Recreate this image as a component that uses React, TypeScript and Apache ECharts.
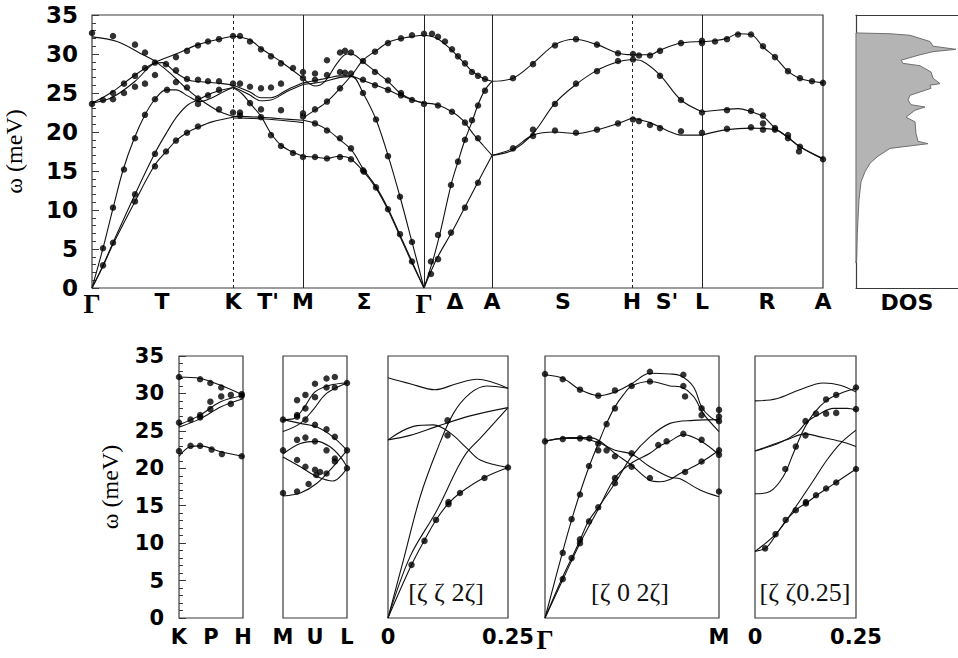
import React, { useEffect, useRef } from 'react';
import * as echarts from 'echarts';

// ---------- top panel: path coordinate (arbitrary units along the path) ----------
const topLabelPos = [0, 0.7, 1.41, 1.76, 2.11, 2.72, 3.32, 3.63, 4.0, 4.71, 5.4, 5.75, 6.1, 6.75, 7.31];
const topLabelNames = ['Γ', 'T', 'K', "T'", 'M', 'Σ', 'Γ', 'Δ', 'A', 'S', 'H', "S'", 'L', 'R', 'A'];
const dashedAt = [1.41, 5.4];
const solidAt = [2.11, 3.32, 4.0, 6.1];

const branchesGK = [
  [[0, 32.2], [0.25, 31.6], [0.48, 30.1], [0.65, 28.9], [0.81, 27.2], [0.96, 25.4], [1.1, 24.0], [1.25, 22.8], [1.41, 22.0]],
  [[0, 23.7], [0.21, 25.2], [0.43, 27.3], [0.63, 28.9], [0.84, 30.0], [1.06, 31.2], [1.27, 31.9], [1.41, 32.3]],
  [[0, 23.7], [0.21, 24.5], [0.43, 26.5], [0.6, 28.6], [0.7, 28.9], [0.84, 27.6], [0.98, 26.6], [1.15, 26.4], [1.3, 26.2], [1.41, 26.0]],
  [[0, 0], [0.11, 5.1], [0.21, 10.2], [0.31, 15.1], [0.42, 19.1], [0.53, 22.2], [0.63, 24.2], [0.74, 25.4], [0.84, 25.4], [0.96, 24.6], [1.08, 23.9], [1.2, 24.4], [1.32, 25.2], [1.41, 25.7]],
  [[0, 0], [0.11, 2.9], [0.21, 5.8], [0.43, 12.0], [0.63, 17.3], [0.75, 20.0], [0.85, 22.0], [0.96, 23.5], [1.06, 24.1], [1.2, 25.0], [1.41, 25.7]],
  [[0, 0], [0.11, 2.8], [0.21, 5.6], [0.43, 11.1], [0.63, 15.8], [0.75, 17.6], [0.84, 18.9], [0.95, 19.9], [1.06, 20.6], [1.2, 21.3], [1.41, 21.9]],
];
const branchesKM = [
  [[1.41, 32.3], [1.58, 31.8], [1.69, 30.7], [1.89, 29.0], [2.11, 26.9]],
  [[1.41, 26.0], [1.57, 25.2], [1.69, 24.4], [1.79, 24.4], [1.95, 25.4], [2.11, 26.3]],
  [[1.41, 25.8], [1.57, 24.8], [1.69, 24.0], [1.79, 24.1], [1.95, 25.2], [2.11, 26.1]],
  [[1.41, 25.7], [1.5, 24.9], [1.58, 23.7], [1.69, 22.0], [1.79, 19.8], [1.89, 18.3], [2.01, 17.4], [2.11, 16.9]],
  [[1.41, 22.0], [1.69, 21.9], [1.89, 21.7], [2.11, 21.5]],
  [[1.41, 21.8], [1.69, 21.7], [1.89, 21.5], [2.11, 21.2]],
];
const branchesMG = [
  [[2.11, 21.8], [2.23, 22.8], [2.35, 23.9], [2.48, 25.6], [2.61, 27.5], [2.71, 29.2], [2.85, 30.5], [2.98, 31.6], [3.18, 32.2], [3.32, 32.4]],
  [[2.11, 26.9], [2.23, 25.9], [2.33, 26.5], [2.45, 28.8], [2.55, 30.0], [2.62, 29.9], [2.71, 29.0], [2.84, 27.7], [2.96, 26.5], [3.08, 25.0], [3.21, 24.1], [3.32, 23.7]],
  [[2.11, 26.3], [2.23, 26.6], [2.35, 26.9], [2.48, 27.2], [2.57, 27.2], [2.71, 26.6], [2.84, 26.0], [2.96, 25.4], [3.08, 24.7], [3.21, 24.1], [3.32, 23.7]],
  [[2.11, 26.1], [2.3, 26.4], [2.48, 27.0], [2.6, 27.1], [2.71, 25.0], [2.84, 21.6], [2.96, 17.0], [3.08, 11.7], [3.2, 5.9], [3.32, 0]],
  [[2.11, 21.5], [2.23, 21.1], [2.35, 20.3], [2.47, 19.1], [2.6, 17.6], [2.71, 15.3], [2.84, 13.0], [2.96, 10.2], [3.08, 6.8], [3.2, 3.4], [3.32, 0]],
  [[2.11, 16.9], [2.23, 16.8], [2.35, 16.6], [2.47, 16.9], [2.58, 16.6], [2.71, 15.0], [2.84, 12.8], [2.96, 10.0], [3.08, 6.6], [3.2, 3.2], [3.32, 0]],
];
const branchesGA = [
  [[3.32, 32.4], [3.45, 32.0], [3.58, 30.7], [3.71, 29.0], [3.81, 27.7], [3.91, 26.9], [4.0, 26.5]],
  [[3.32, 23.7], [3.45, 23.5], [3.6, 22.6], [3.71, 21.5], [3.81, 19.8], [3.91, 18.3], [4.0, 17.0]],
  [[3.32, 0], [3.41, 3.6], [3.48, 7.0], [3.59, 13.2], [3.66, 16.2], [3.73, 19.0], [3.8, 21.3], [3.86, 23.5], [3.93, 25.4], [4.0, 26.5]],
  [[3.32, 0], [3.45, 3.8], [3.6, 7.2], [3.73, 10.4], [3.86, 13.6], [4.0, 17.0]],
];
const branchesAH = [
  [[4.0, 26.5], [4.21, 26.9], [4.41, 28.8], [4.63, 31.2], [4.83, 31.9], [5.05, 31.2], [5.26, 30.1], [5.4, 29.9]],
  [[4.0, 17.0], [4.21, 17.7], [4.41, 19.8], [4.63, 23.7], [4.83, 26.0], [5.05, 27.9], [5.26, 29.0], [5.4, 29.3]],
  [[4.0, 17.0], [4.21, 17.9], [4.41, 19.6], [4.63, 20.0], [4.83, 19.8], [5.05, 20.3], [5.26, 21.1], [5.4, 21.8]],
];
const branchesHL = [
  [[5.4, 29.9], [5.58, 29.9], [5.68, 30.5], [5.89, 31.4], [6.1, 31.6]],
  [[5.4, 29.3], [5.5, 29.1], [5.68, 27.3], [5.89, 24.1], [6.1, 22.6]],
  [[5.4, 21.8], [5.58, 21.2], [5.75, 20.2], [5.89, 19.6], [6.1, 19.6]],
];
const branchesLA = [
  [[6.1, 31.6], [6.22, 31.7], [6.35, 32.0], [6.46, 32.6], [6.59, 32.5], [6.71, 30.9], [6.83, 29.6], [6.95, 27.9], [7.07, 26.9], [7.2, 26.5], [7.31, 26.3]],
  [[6.1, 22.6], [6.35, 22.9], [6.46, 23.0], [6.59, 22.6], [6.71, 22.0], [6.83, 20.5], [6.95, 19.4], [7.08, 18.1], [7.31, 16.6]],
  [[6.1, 19.6], [6.35, 20.3], [6.59, 20.5], [6.83, 20.3], [6.95, 19.4], [7.08, 18.1], [7.31, 16.5]],
];

const mainDots = [
  [0, 32.7], [0.21, 32.3], [0.43, 31.2], [0.53, 30.2], [0.63, 28.9], [0.74, 28.7], [0.84, 29.6], [0.95, 30.4], [1.06, 31.1], [1.16, 31.6], [1.27, 31.9], [1.41, 32.3],
  [0, 23.6], [0.11, 24.1], [0.21, 24.2], [0.21, 25.0], [0.32, 25.0], [0.32, 26.2], [0.43, 25.8], [0.43, 27.2], [0.53, 26.2], [0.53, 28.2], [0.63, 27.3], [0.84, 27.9], [0.84, 26.4], [0.95, 26.8], [0.95, 25.7], [1.06, 26.7], [1.06, 24.3], [1.16, 26.5], [1.16, 24.7], [1.27, 26.5], [1.27, 25.4], [1.27, 22.9], [1.41, 26.2], [1.41, 22.5],
  [1.06, 20.7], [0.95, 19.9], [0.84, 18.9], [0.74, 17.5], [0.63, 17.2], [0.75, 25.4], [0.63, 24.2], [0.53, 22.2], [0.43, 19.2], [1.06, 23.6],
  [0.32, 15.2], [0.21, 10.3], [0.11, 5.1], [0.11, 2.9], [0.21, 5.8], [0.43, 12.0], [0.43, 11.1], [0.63, 15.6],
  [1.48, 32.3], [1.58, 31.6], [1.69, 30.6], [1.79, 29.7], [1.89, 28.8], [2.01, 28.2], [2.11, 27.7], [2.11, 26.9], [1.48, 26.2], [1.58, 25.8], [1.69, 25.6], [1.79, 25.7], [1.89, 26.2],
  [1.89, 22.8], [1.69, 22.9], [1.69, 21.9], [1.48, 22.5], [1.48, 22.1], [1.58, 23.7], [1.79, 19.6], [1.89, 18.2], [2.01, 17.3], [2.11, 16.8], [2.11, 22.4], [2.11, 22.0],
  [2.23, 27.5], [2.23, 26.7], [2.35, 27.3], [2.35, 29.2], [2.48, 30.2], [2.53, 30.4], [2.59, 30.2], [2.71, 29.1], [2.83, 30.3], [2.96, 31.4], [3.09, 32.0], [3.2, 32.4], [3.32, 32.6],
  [2.48, 27.7], [2.53, 27.6], [2.59, 27.5], [2.71, 26.7], [2.83, 26.0], [2.96, 25.4], [3.09, 24.7], [3.2, 24.1], [3.32, 23.6], [2.83, 27.7], [2.96, 26.6], [3.09, 25.0],
  [2.35, 23.9], [2.48, 25.6], [2.23, 22.9], [2.23, 21.1], [2.35, 20.2], [2.48, 19.2], [2.59, 17.9], [2.71, 25.0], [2.84, 21.6],
  [2.23, 16.8], [2.35, 16.6], [2.48, 16.8], [2.59, 16.5], [2.71, 15.1], [2.84, 12.9], [2.96, 10.1], [3.08, 6.9], [3.2, 3.4], [2.72, 14.9], [2.96, 16.9], [3.08, 11.7], [3.2, 5.9],
  [3.4, 32.6], [3.46, 32.2], [3.53, 31.6], [3.6, 30.6], [3.66, 29.7], [3.73, 28.8], [3.8, 27.7], [3.86, 27.2], [3.93, 26.8], [3.93, 25.3], [3.86, 23.4], [3.8, 21.5], [3.73, 19.0],
  [3.46, 23.4], [3.6, 22.6], [3.73, 21.2], [3.86, 19.2], [3.39, 3.4], [3.39, 1.8], [3.46, 3.7], [3.46, 6.8], [3.59, 13.2], [3.66, 16.2], [3.59, 7.1], [3.73, 10.3], [3.86, 13.5],
  [4.21, 26.9], [4.41, 28.7], [4.63, 31.1], [4.84, 31.9], [5.05, 31.2], [5.26, 30.1], [4.41, 20.3], [4.41, 19.5], [4.63, 20.2], [4.84, 19.9], [5.05, 20.3], [5.26, 21.1],
  [4.63, 23.6], [4.84, 26.2], [5.05, 27.8], [5.26, 29.1], [4.21, 17.9],
  [5.41, 30.0], [5.47, 29.8], [5.58, 29.8], [5.68, 30.4], [5.89, 31.4], [6.1, 31.7], [6.1, 31.4], [6.23, 31.6], [6.35, 31.9], [6.46, 32.5], [6.59, 32.5], [6.71, 31.0],
  [6.83, 29.6], [6.96, 27.8], [7.08, 26.9], [7.2, 26.5], [7.31, 26.3], [5.68, 27.2], [5.89, 24.1], [6.1, 22.5], [6.35, 22.8], [6.59, 22.7], [6.71, 22.1], [6.71, 21.1],
  [6.71, 20.3], [6.83, 20.5], [6.96, 19.6], [6.96, 19.2], [7.08, 18.1], [7.07, 17.5], [5.41, 21.6], [5.47, 21.4], [5.58, 20.9], [5.68, 20.5], [5.89, 20.1], [6.1, 19.9],
  [6.35, 20.4], [6.59, 20.6], [6.83, 20.3], [7.31, 16.5], [5.41, 29.3],
];

// ---------- density of states: [DOS, energy] ----------
const dosCurve = [
  [0, 3.2], [0.007, 4.0], [0.013, 7.0], [0.03, 11.3], [0.05, 13.6], [0.09, 14.9], [0.14, 16.0], [0.22, 16.9], [0.34, 17.9], [0.72, 18.5],
  [0.62, 18.8], [0.6, 19.8], [0.59, 21.3], [0.5, 21.9], [0.59, 22.8], [0.69, 23.2], [0.55, 23.5], [0.52, 24.1], [0.54, 24.7], [0.75, 25.6],
  [0.74, 26.0], [0.84, 26.2], [0.77, 26.9], [0.75, 27.7], [0.64, 28.5], [0.47, 28.8], [0.45, 29.2], [0.64, 29.9], [0.77, 30.3], [1.0, 30.6],
  [0.77, 31.0], [0.74, 31.6], [0.54, 32.4], [0.34, 32.6], [0, 32.7],
];

// ---------- bottom panels ----------
const kphLabels = ['K', 'P', 'H'];
const kphBranches = [
  [[0, 32.2], [0.33, 32.0], [0.65, 31.1], [1, 29.8]],
  [[0, 25.5], [0.33, 26.6], [0.65, 28.2], [1, 29.3]],
  [[0, 25.8], [0.33, 27.1], [0.65, 28.9], [1, 29.7]],
  [[0, 21.6], [0.18, 22.9], [0.33, 23.0], [0.65, 22.2], [1, 21.6]],
];
const kphDots = [
  [0, 32.2], [0.33, 31.9], [0.49, 31.4], [0.66, 30.8], [0.81, 29.8], [0.98, 29.9], [0.66, 29.6], [0.49, 28.9], [0.49, 27.9], [0.33, 27.1], [0.33, 26.8], [0.18, 26.5],
  [0, 26.1], [0.81, 28.6], [0.98, 29.7], [0, 22.3], [0.18, 23.0], [0.33, 23.0], [0.51, 22.5], [0.67, 21.9], [0.98, 21.6],
];
const mulLabels = ['M', 'U', 'L'];
const mulBranches = [
  [[0, 24.9], [0.27, 26.0], [0.47, 27.8], [0.68, 30.0], [1, 31.4]],
  [[0, 26.5], [0.16, 26.6], [0.32, 28.0], [0.5, 30.2], [0.73, 31.1], [1, 31.4]],
  [[0, 26.5], [0.27, 26.0], [0.53, 25.5], [0.78, 24.2], [1, 22.4]],
  [[0, 21.9], [0.27, 23.3], [0.53, 23.6], [0.73, 22.9], [0.89, 21.6], [1, 20.2]],
  [[0, 21.5], [0.27, 20.2], [0.53, 18.9], [0.78, 18.3], [1, 20.0]],
  [[0, 16.3], [0.27, 16.7], [0.53, 18.0], [0.78, 20.2], [1, 22.4]],
];
const mulDots = [
  [0, 26.5], [0, 22.4], [0, 16.7], [0.22, 29.1], [0.22, 27.1], [0.22, 26.9], [0.35, 29.8], [0.35, 28.0], [0.35, 26.5], [0.5, 31.3], [0.5, 29.5], [0.5, 25.8],
  [0.68, 32.0], [0.68, 30.8], [0.68, 25.2], [0.81, 32.2], [0.81, 30.8], [0.81, 24.2], [1, 31.4], [1, 22.4], [1, 20.0], [0.22, 23.8], [0.35, 24.1], [0.5, 23.6],
  [0.68, 22.4], [0.81, 21.3], [0.22, 21.1], [0.35, 20.2], [0.5, 19.8], [0.52, 19.1], [0.68, 19.3], [0.81, 20.9], [0.22, 16.9], [0.4, 17.9], [0.58, 19.5],
];
const zz2zLabels = ['0', '0.25'];
const zz2zBranches = [
  [[0, 32.1], [0.046, 31.3], [0.098, 30.5], [0.143, 31.3], [0.185, 31.9], [0.25, 30.7]],
  [[0, 0], [0.032, 7.7], [0.067, 16.2], [0.102, 22.4], [0.136, 27.3], [0.171, 30.0], [0.206, 31.0], [0.25, 30.7]],
  [[0, 23.8], [0.053, 25.6], [0.095, 25.8], [0.13, 24.7], [0.164, 22.7], [0.192, 21.1], [0.25, 20.1]],
  [[0, 23.8], [0.046, 24.4], [0.102, 25.6], [0.171, 27.0], [0.25, 28.1]],
  [[0, 0], [0.046, 8.2], [0.102, 14.4], [0.143, 19.8], [0.164, 22.1], [0.192, 24.0], [0.25, 28.1]],
  [[0, 0], [0.049, 7.1], [0.076, 10.4], [0.1, 13.1], [0.126, 15.3], [0.15, 16.7], [0.199, 18.7], [0.25, 20.1]],
];
const zz2zDots = [
  [0.049, 7.1], [0.076, 10.3], [0.1, 13.1], [0.126, 15.2], [0.126, 15.5], [0.15, 16.7], [0.201, 18.7], [0.25, 20.1], [0.124, 26.4], [0.124, 24.4],
];
const z02zLabels = ['Γ', 'M'];
const z02zBranches = [
  [[0, 32.5], [0.105, 32.0], [0.201, 30.5], [0.31, 29.7], [0.402, 30.2], [0.498, 31.3], [0.603, 32.7], [0.718, 32.6], [0.776, 32.4], [0.853, 30.9], [0.9, 28.2], [0.948, 26.9], [1, 26.2]],
  [[0, 0], [0.102, 8.9], [0.153, 13.1], [0.201, 16.7], [0.253, 20.2], [0.306, 23.3], [0.354, 26.0], [0.402, 28.2], [0.45, 29.8], [0.498, 31.0], [0.603, 31.6], [0.718, 31.0], [0.776, 30.9], [0.853, 29.6], [0.91, 27.3], [1, 24.9]],
  [[0, 23.6], [0.105, 24.0], [0.201, 24.0], [0.31, 23.4], [0.402, 22.4], [0.498, 21.9], [0.603, 20.2], [0.718, 18.8], [0.776, 18.6], [0.891, 17.1], [1, 16.2]],
  [[0, 23.6], [0.144, 24.1], [0.259, 24.1], [0.31, 23.7], [0.402, 22.0], [0.498, 20.4], [0.603, 18.4], [0.661, 18.2], [0.718, 18.5], [0.776, 19.3], [0.891, 20.7], [1, 22.4]],
  [[0, 0], [0.102, 5.5], [0.153, 8.0], [0.201, 10.4], [0.249, 12.9], [0.31, 14.9], [0.402, 18.0], [0.498, 21.6], [0.603, 24.2], [0.718, 26.0], [0.853, 26.4], [1, 26.5]],
  [[0, 0], [0.102, 5.1], [0.201, 10.0], [0.31, 14.7], [0.402, 18.7], [0.498, 20.7], [0.603, 22.0], [0.661, 23.0], [0.718, 23.6], [0.795, 24.5], [0.891, 23.7], [1, 21.8]],
];
const z02zDots = [
  [0, 32.6], [0.102, 31.9], [0.201, 30.5], [0.306, 29.7], [0.402, 30.4], [0.498, 31.0], [0.603, 32.9], [0.603, 31.6], [0.795, 32.5], [0.795, 31.0], [0.805, 29.6],
  [0.9, 28.0], [0.9, 27.1], [1, 27.8], [1, 26.9], [1, 26.3], [0.795, 24.6], [0.9, 23.8], [1, 22.4], [1, 21.8], [0.805, 19.5], [0.9, 20.9], [1, 16.9],
  [0, 23.6], [0.102, 23.9], [0.201, 24.0], [0.255, 24.0], [0.306, 23.3], [0.306, 22.4], [0.354, 22.4], [0.402, 21.6], [0.498, 22.0], [0.498, 20.2], [0.603, 18.7],
  [0.651, 23.1], [0.699, 23.6], [0.102, 8.7], [0.153, 13.2], [0.201, 16.5], [0.253, 20.3], [0.354, 25.9], [0.402, 28.0],
  [0.102, 5.2], [0.153, 8.0], [0.201, 10.5], [0.201, 10.0], [0.253, 12.9], [0.306, 14.8], [0.402, 18.0], [0.402, 18.7],
];
const zzqLabels = ['0', '0.25'];
const zzqBranches = [
  [[0, 29.0], [0.053, 29.3], [0.111, 30.5], [0.169, 31.4], [0.211, 31.1], [0.25, 30.2]],
  [[0, 22.3], [0.078, 23.8], [0.124, 24.6], [0.161, 24.2], [0.211, 23.6], [0.25, 22.9]],
  [[0, 22.3], [0.061, 23.4], [0.103, 24.7], [0.128, 26.2], [0.161, 27.3], [0.194, 28.0], [0.228, 28.0], [0.25, 27.8]],
  [[0, 16.6], [0.037, 16.9], [0.07, 18.9], [0.095, 22.0], [0.12, 25.1], [0.145, 27.3], [0.178, 29.1], [0.211, 30.0], [0.25, 30.7]],
  [[0, 8.9], [0.053, 11.3], [0.095, 14.4], [0.145, 18.4], [0.178, 21.1], [0.211, 23.3], [0.25, 25.1]],
  [[0, 8.9], [0.028, 9.4], [0.053, 11.2], [0.078, 13.1], [0.103, 14.5], [0.128, 15.4], [0.153, 16.4], [0.178, 17.3], [0.203, 18.2], [0.25, 19.9]],
];
const zzqDots = [
  [0.025, 9.3], [0.051, 11.2], [0.076, 13.1], [0.101, 14.4], [0.126, 15.3], [0.126, 15.5], [0.151, 16.4], [0.176, 17.3], [0.201, 18.1], [0.25, 19.9],
  [0.075, 19.9], [0.101, 22.9], [0.125, 24.4], [0.125, 26.3], [0.151, 27.3], [0.176, 29.2], [0.176, 27.3], [0.201, 29.8], [0.201, 27.4], [0.25, 30.8], [0.25, 27.9],
];
const panelTags = ['[ζ ζ 2ζ]', '[ζ 0 2ζ]', '[ζ ζ0.25]'];

const INK = '#111';
const FRAME = '#3a3a3a';
const SANS = 'DejaVu Sans';
const SERIF = 'Liberation Serif';

function lineSeries(data: number[][], xi: number, yi: number, extra: any = {}) {
  return {
    type: 'line', xAxisIndex: xi, yAxisIndex: yi, data, smooth: 0.35, symbol: 'none',
    lineStyle: { color: INK, width: 1.1 }, silent: true, z: 2, ...extra,
  };
}
function dotSeries(data: number[][], xi: number, yi: number) {
  return {
    type: 'scatter', xAxisIndex: xi, yAxisIndex: yi, data, symbolSize: 6.5,
    itemStyle: { color: '#000' }, silent: true, z: 3,
  };
}
const richLab = {
  g: { fontFamily: SERIF, fontSize: 27, fontWeight: 'bold', color: '#000' },
  s: { fontFamily: SANS, fontSize: 22, fontWeight: 'bold', color: '#000' },
};
function labelFmt(pos: number[], names: string[]) {
  return (v: number) => {
    let best = 0;
    pos.forEach((p, i) => { if (Math.abs(p - v) < Math.abs(pos[best] - v)) best = i; });
    const n = names[best];
    return n === 'Γ' ? `{g|${n}}` : `{s|${n}}`;
  };
}

export default function App() {
  const ref = useRef<HTMLDivElement>(null);
  useEffect(() => {
    if (!ref.current) return;
    const chart = echarts.init(ref.current, null, { renderer: 'svg' });
    const gridBase = { show: true, borderColor: FRAME, borderWidth: 1.2, backgroundColor: 'transparent', containLabel: false, outerBoundsMode: 'none' };
    const bottomTop = 356, bottomH = 262;
    const grids = [
      { ...gridBase, left: 92, top: 15, width: 731, height: 273 },
      { ...gridBase, show: false, left: 856, top: 15, width: 102, height: 273 },
      { ...gridBase, left: 179, top: bottomTop, width: 64, height: bottomH },
      { ...gridBase, left: 283, top: bottomTop, width: 64, height: bottomH },
      { ...gridBase, left: 388, top: bottomTop, width: 120, height: bottomH },
      { ...gridBase, left: 545, top: bottomTop, width: 174, height: bottomH },
      { ...gridBase, left: 755, top: bottomTop, width: 101, height: bottomH },
    ];
    const hidden = { axisLine: { show: false }, axisTick: { show: false }, splitLine: { show: false } };
    const panelX = (gi: number, max: number, names: string[]) => {
      const pos = names.length === 3 ? [0, max / 2, max] : [0, max];
      return {
        gridIndex: gi, type: 'value', min: 0, max, ...hidden,
        axisLabel: { customValues: pos, formatter: labelFmt(pos, names), margin: 8, rich: { ...richLab, s: { ...richLab.s, fontSize: 21 } }, hideOverlap: false },
      };
    };
    const xAxes = [
      {
        gridIndex: 0, type: 'value', min: 0, max: 7.31, ...hidden,
        axisLabel: { customValues: topLabelPos, formatter: labelFmt(topLabelPos, topLabelNames), margin: 2, rich: richLab, hideOverlap: false },
      },
      {
        gridIndex: 1, type: 'value', min: 0, max: 1.02, axisTick: { show: false }, splitLine: { show: false }, axisLabel: { show: false },
        axisLine: { show: true, lineStyle: { color: FRAME, width: 1.2 } },
        name: 'DOS', nameLocation: 'middle', nameGap: 3, nameTextStyle: { fontFamily: SANS, fontSize: 22, fontWeight: 'bold', color: '#000', verticalAlign: 'top' },
      },
      {
        gridIndex: 1, type: 'value', min: 0, max: 1.02, position: 'top', axisTick: { show: false }, splitLine: { show: false }, axisLabel: { show: false },
        axisLine: { show: true, lineStyle: { color: FRAME, width: 1.2 } },
      },
      panelX(2, 1, kphLabels),
      panelX(3, 1, mulLabels),
      panelX(4, 0.25, zz2zLabels),
      panelX(5, 1, z02zLabels),
      panelX(6, 0.25, zzqLabels),
    ];
    const tickedY = (gi: number, fs: number, gap: number, margin: number) => ({
      gridIndex: gi, type: 'value', min: 0, max: 35, interval: 5,
      axisLine: { show: false }, splitLine: { show: false },
      axisTick: { show: true, inside: true, length: 7, lineStyle: { color: FRAME } },
      minorTick: { show: true, splitNumber: 5, length: 4, lineStyle: { color: FRAME } },
      axisLabel: { fontFamily: SANS, fontSize: fs, fontWeight: 'bold', color: '#000', margin },
      name: 'ω (meV)', nameLocation: 'middle', nameRotate: 90, nameGap: gap,
      nameTextStyle: { fontFamily: SERIF, fontSize: 24, color: '#000' },
    });
    const yAxes = [
      tickedY(0, 23, 66, 14),
      {
        gridIndex: 1, type: 'value', min: 0, max: 35, axisTick: { show: false }, splitLine: { show: false }, axisLabel: { show: false },
        axisLine: { show: true, lineStyle: { color: FRAME, width: 1.2 } },
      },
      tickedY(2, 21, 57, 15),
      { gridIndex: 3, type: 'value', min: 0, max: 35, show: false },
      { gridIndex: 4, type: 'value', min: 0, max: 35, show: false },
      { gridIndex: 5, type: 'value', min: 0, max: 35, show: false },
      { gridIndex: 6, type: 'value', min: 0, max: 35, show: false },
    ];

    const series: any[] = [];
    const markLine = {
      silent: true, symbol: ['none', 'none'], label: { show: false },
      lineStyle: { color: '#222', width: 1, type: 'solid' },
      data: [
        ...dashedAt.map(v => ({ xAxis: v, lineStyle: { type: [3, 3], color: '#222', width: 1 } })),
        ...solidAt.map(v => ({ xAxis: v })),
      ],
    };
    const topBranches = [...branchesGK, ...branchesKM, ...branchesMG, ...branchesGA, ...branchesAH, ...branchesHL, ...branchesLA];
    topBranches.forEach((b, i) => series.push(lineSeries(b, 0, 0, i === 0 ? { markLine } : {})));
    series.push(dotSeries(mainDots, 0, 0));

    series.push({
      type: 'custom', xAxisIndex: 1, yAxisIndex: 1, data: dosCurve, encode: { x: 0, y: 1 }, silent: true,
      renderItem: (params: any, api: any) => {
        if (params.dataIndex !== 0) return null;
        const pts = dosCurve.map(p => api.coord(p));
        const b0 = api.coord([0, dosCurve[0][1]]);
        const b1 = api.coord([0, dosCurve[dosCurve.length - 1][1]]);
        return { type: 'polygon', shape: { points: [b0, ...pts, b1] }, style: { fill: '#b4b4b4', stroke: '#707070', lineWidth: 1 } };
      },
    });

    const panels = [
      [kphBranches, kphDots], [mulBranches, mulDots], [zz2zBranches, zz2zDots], [z02zBranches, z02zDots], [zzqBranches, zzqDots],
    ] as any[];
    panels.forEach(([br, dots], k) => {
      br.forEach((b: number[][]) => series.push(lineSeries(b, 3 + k, 2 + k)));
      series.push(dotSeries(dots, 3 + k, 2 + k));
    });

    const tagX = [446, 630, 805];
    chart.setOption({
      animation: false,
      backgroundColor: '#fff',
      grid: grids,
      xAxis: xAxes,
      yAxis: yAxes,
      series,
      graphic: panelTags.map((t, i) => ({
        type: 'text', x: tagX[i], y: 592, z: 10,
        style: { text: t, fontFamily: SERIF, fontSize: 26, fill: INK, align: 'center', verticalAlign: 'middle' },
      })),
    });
    return () => chart.dispose();
  }, []);
  return <div ref={ref} style={{ position: 'fixed', left: 0, top: 0, width: 958, height: 658, background: '#fff' }} />;
}
